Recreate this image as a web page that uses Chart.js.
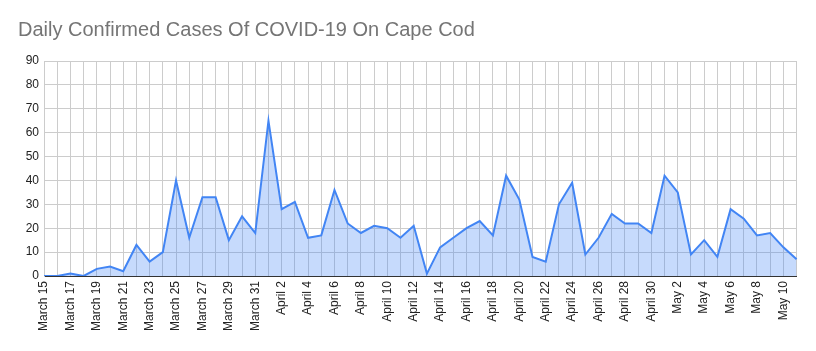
<!DOCTYPE html>
<html>
<head>
<meta charset="utf-8">
<script src="https://cdn.jsdelivr.net/npm/chart.js@4/dist/chart.umd.min.js"></script>
<style>
  html, body { margin: 0; padding: 0; background: #fff; }
  #wrap { width: 816px; height: 351px; position: relative; }
</style>
</head>
<body>
<div id="wrap"><canvas id="chart"></canvas></div>
<script>
// one label per day, March 15 to May 11
const marchDays = [15,16,17,18,19,20,21,22,23,24,25,26,27,28,29,30,31];
const aprilDays = [1,2,3,4,5,6,7,8,9,10,11,12,13,14,15,16,17,18,19,20,21,22,23,24,25,26,27,28,29,30];
const mayDays = [1,2,3,4,5,6,7,8,9,10,11];
const dates = [
  ...marchDays.map(d => 'March ' + d),
  ...aprilDays.map(d => 'April ' + d),
  ...mayDays.map(d => 'May ' + d)
];

const dailyCases = [
  0, 0, 1, 0, 3, 4, 2, 13, 6, 10, 40, 16, 33, 33, 15, 25, 18,
  65, 28, 31, 16, 17, 36, 22, 18, 21, 20, 16, 21, 1, 12, 16, 20, 23, 17, 42,
  32, 8, 6, 30, 39, 9, 16, 26, 22, 22, 18,
  42, 35, 9, 15, 8, 28, 24, 17, 18, 12, 7
];

const yTicks = [0, 10, 20, 30, 40, 50, 60, 70, 80, 90];

const ctx = document.getElementById('chart').getContext('2d');
new Chart(ctx, {
  type: 'line',
  data: {
    labels: dates,
    datasets: [{
      label: 'Daily Confirmed Cases',
      data: dailyCases,
      borderColor: '#4285f4',
      backgroundColor: 'rgba(66,133,244,0.3)',
      borderWidth: 2,
      fill: 'origin',
      pointRadius: 0,
      tension: 0
    }]
  },
  options: {
    responsive: true,
    maintainAspectRatio: false,
    animation: false,
    layout: { padding: { left: 18, right: 18, top: 0, bottom: 0 } },
    plugins: {
      legend: { display: false },
      tooltip: { enabled: false },
      title: {
        display: true,
        text: 'Daily Confirmed Cases Of COVID-19 On Cape Cod',
        align: 'start',
        color: '#757575',
        font: { family: '"Liberation Sans", Arial, sans-serif', size: 20, weight: 'normal' },
        padding: { top: 18, bottom: 19 }
      }
    },
    scales: {
      x: {
        grid: { color: '#cccccc', drawTicks: false },
        border: { color: '#333333', width: 1 },
        ticks: {
          autoSkip: false,
          maxRotation: 90,
          minRotation: 90,
          padding: 5,
          color: '#222222',
          font: { family: '"Liberation Sans", Arial, sans-serif', size: 12 },
          callback: (v, i) => (i % 2 === 0 ? dates[i] : '')
        },
        afterFit: s => { s.height = 75; }
      },
      y: {
        min: 0,
        max: 90,
        afterBuildTicks: s => { s.ticks = yTicks.map(v => ({ value: v })); },
        grid: {
          color: c => (c.tick && c.tick.value === 0 ? '#333333' : '#cccccc'),
          drawTicks: false
        },
        border: { color: '#cccccc' },
        ticks: {
          padding: 5,
          color: '#222222',
          font: { family: '"Liberation Sans", Arial, sans-serif', size: 12 }
        },
        afterFit: s => { s.width = 26; }
      }
    }
  }
});
</script>
</body>
</html>
